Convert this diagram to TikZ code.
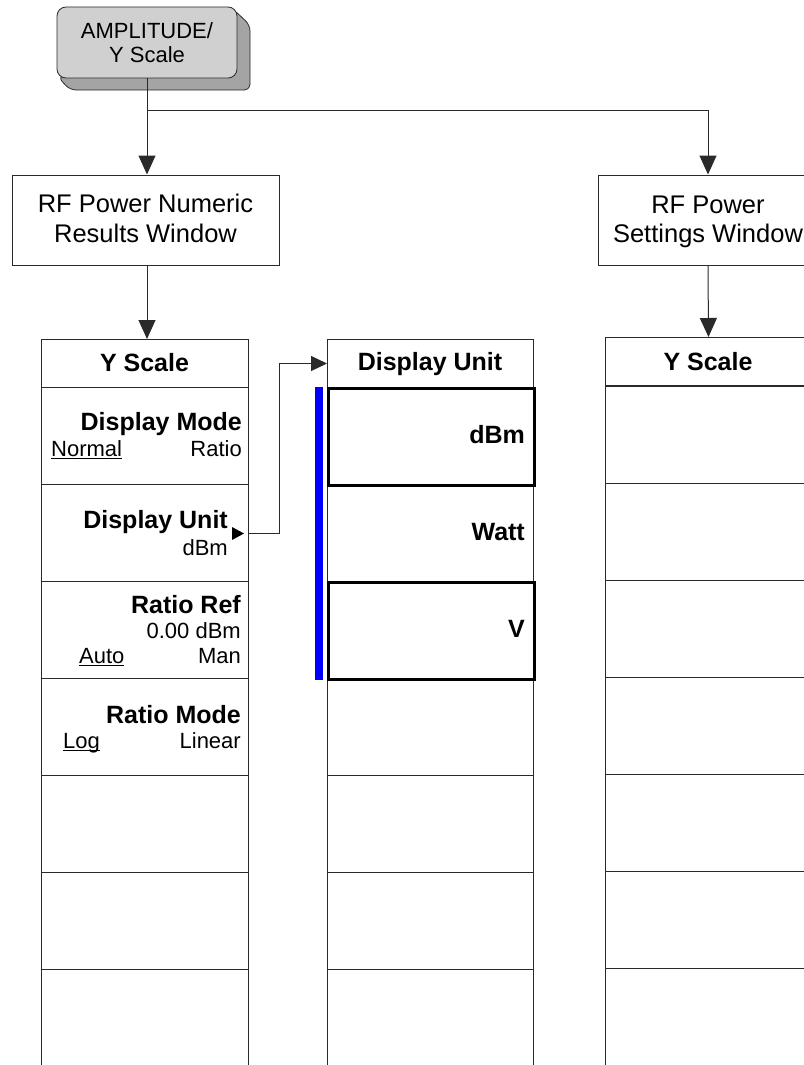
\documentclass[tikz,border=0pt]{standalone}
\usepackage{fontspec}
\setmainfont{Liberation Sans}
\usetikzlibrary{arrows.meta}
\definecolor{keyfill}{HTML}{D0D0D0}
\definecolor{keyshade}{HTML}{A4A4A4}
\definecolor{lin}{HTML}{2A2A2A}
\newcommand\boldlbl{\fontsize{25}{29}\selectfont\bfseries}
\newcommand\sublbl{\fontsize{22}{25}\selectfont}
\newcommand\winlbl{\fontsize{25.5}{29}\selectfont}
\newcommand\keylbl{\fontsize{22}{25}\selectfont}
\newcommand\ulin[1]{\setbox0\hbox{#1}\rlap{\rule[-3pt]{\wd0}{1.2pt}}\box0}
\begin{document}
\begin{tikzpicture}[x=1pt,y=-1pt,
  ln/.style={draw=lin,line width=1pt},
  arr/.style={ln,-{Triangle[width=17pt,length=19pt]}},
  arrs/.style={ln,-{Triangle[width=15pt,length=16pt]}},
  cell/.style={rectangle,draw=lin,line width=1pt,fill=white,inner sep=0pt,anchor=north west,minimum width=207pt,minimum height=97pt},
  hdr/.style={cell,minimum height=48pt},
  sel/.style={cell,draw=black,line width=2.5pt},
  win/.style={rectangle,draw=lin,line width=1pt,fill=white,inner sep=0pt,minimum height=90pt},
  bl/.style={inner sep=0pt,font=\boldlbl,anchor=base east},
  bc/.style={inner sep=0pt,font=\boldlbl,anchor=base},
  sr/.style={inner sep=0pt,font=\sublbl,anchor=base east},
  sl/.style={inner sep=0pt,font=\sublbl,anchor=base west},
  wt/.style={inner sep=0pt,font=\winlbl,anchor=base},
  kt/.style={inner sep=0pt,font=\keylbl,anchor=base},
]
\useasboundingbox (0,0) rectangle (803,1065);

% hard key with shadow
\filldraw[fill=keyshade,draw=lin,line width=0.8pt,rounded corners=6pt]
  (233,9) -- (250,25) -- (250,90) -- (70,90) -- (58,77) -- cycle;
\node[draw=lin,line width=0.8pt,fill=keyfill,rounded corners=9pt,minimum width=180pt,minimum height=71pt,inner sep=0pt] (key) at (147,42.5) {};
\node[kt] (k1) at (147,38) {AMPLITUDE/};
\node[kt] (k2) at (147,63) {Y Scale};

% windows
\node[win,minimum width=267pt] (num) at (145.5,220) {};
\node[wt] (n1) at (145.5,212) {RF Power Numeric};
\node[wt] (n2) at (145.5,242) {Results Window};
\node[win,minimum width=220pt] (set) at (708,220) {};
\node[wt] (s1) at (708,213) {RF Power};
\node[wt] (s2) at (708,242) {Settings Window};

% left column
\node[hdr] (lh) at (41,339) {};
\node[cell] (l1) at (41,387) {};
\node[cell] (l2) at (41,484) {};
\node[cell] (l3) at (41,581) {};
\node[cell] (l4) at (41,678) {};
\node[cell] (l5) at (41,775) {};
\node[cell] (l6) at (41,872) {};
\node[cell,minimum height=130pt] (l7) at (41,969) {};

% middle column
\node[hdr,minimum width=206pt] (mh) at (327,339) {};
\node[cell,minimum width=206pt] (m2) at (327,484) {};
\node[cell,minimum width=206pt] (m4) at (327,678) {};
\node[cell,minimum width=206pt] (m5) at (327,775) {};
\node[cell,minimum width=206pt] (m6) at (327,872) {};
\node[cell,minimum width=206pt,minimum height=130pt] (m7) at (327,969) {};
\node[sel,minimum width=206pt] (m1) at (327,387) {};
\node[sel,minimum width=206pt] (m3) at (327,581) {};
\fill[blue] (315,387) rectangle (323,680);

% right column
\node[hdr,minimum width=206pt] (rh) at (605,337) {};
\node[cell,minimum width=206pt] (r1) at (605,386) {};
\node[cell,minimum width=206pt] (r2) at (605,483) {};
\node[cell,minimum width=206pt] (r3) at (605,580) {};
\node[cell,minimum width=206pt] (r4) at (605,677) {};
\node[cell,minimum width=206pt] (r5) at (605,774) {};
\node[cell,minimum width=206pt] (r6) at (605,871) {};
\node[cell,minimum width=206pt,minimum height=130pt] (r7) at (605,968) {};

% connectors
\coordinate (br) at (147,110);
\draw[arr] (key.south) -- (key.south |- num.north);
\draw[arr] (br) -| (set.north);
\draw[arr] (key.south |- num.south) -- (key.south |- lh.north);
\draw[arr] (set.south) -- (rh.north);
\draw[arrs] (l2.east) -- ++(30,0) |- (mh.west);
\fill[black] (232,527) -- (244,533.5) -- (232,540) -- cycle;

% texts
\node[bc] (lht) at (144.5,371) {Y Scale};
\node[bc] (mht) at (430,370) {Display Unit};
\node[bc] (rht) at (708,370) {Y Scale};

\node[bl] (dm) at (242,430) {Display Mode};
\node[sl] (dmn) at (51,456) {\ulin{Normal}};
\node[sr] (dmr) at (242,456) {Ratio};
\node[bl] (du) at (228,528) {Display Unit};
\node[sr] (dud) at (228,555) {dBm};
\node[bl] (rr) at (241,613) {Ratio Ref};
\node[sr] (rrv) at (241,638) {0.00 dBm};
\node[sl] (rra) at (79,663) {\ulin{Auto}};
\node[sr] (rrm) at (241,663) {Man};
\node[bl] (rm) at (241,723) {Ratio Mode};
\node[sl] (rml) at (63,748) {\ulin{Log}};
\node[sr] (rmn) at (241,748) {Linear};

\node[bl] (u1) at (525,443) {dBm};
\node[bl] (u2) at (525,540) {Watt};
\node[bl] (u3) at (525,637) {V};
\end{tikzpicture}
\end{document}
